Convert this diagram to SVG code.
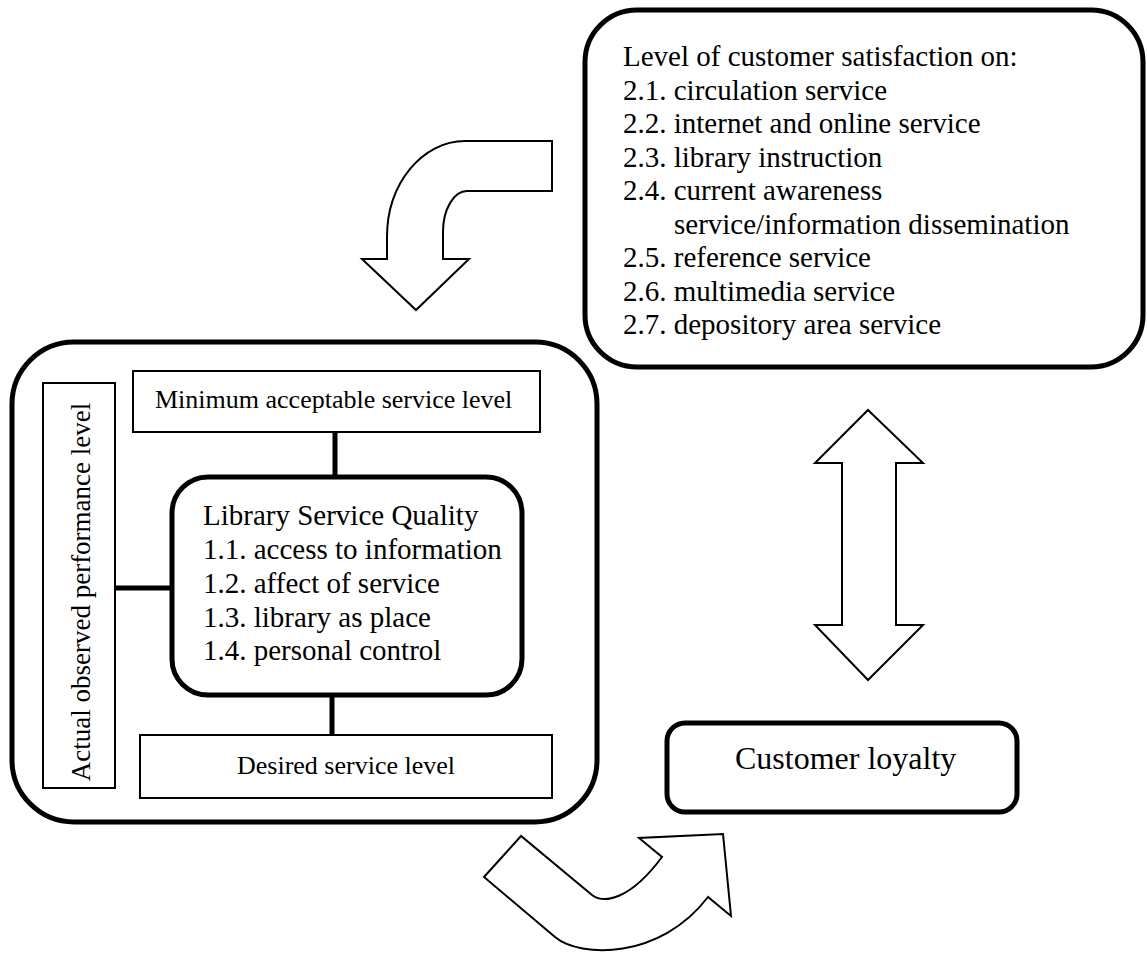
<svg xmlns="http://www.w3.org/2000/svg" width="1147" height="956" viewBox="0 0 1147 956">
<style>
.t{font-family:"Liberation Serif","Times New Roman",serif;fill:#000}
.thick{fill:#fff;stroke:#000;stroke-width:5}
.thin{fill:#fff;stroke:#000;stroke-width:2}
.arrow{fill:#fff;stroke:#000;stroke-width:2;stroke-linejoin:miter}
.conn{stroke:#000;stroke-width:5;fill:none}
</style>
<rect width="1147" height="956" fill="#fff"/>
<g id="arrows">
<path class="arrow" d="M552,141 H465 C422,141 387,184 387,237 V259 H362 L416,310 L469,259 H443 V232 C443,209 454,191 467,191 H552 Z"/>
<path class="arrow" d="M868,410 L923,463 H896 V625 H923 L868,680 L815,625 H842 V463 H815 Z"/>
<path class="arrow" d="M521,836 L484,877 L555,937 C580,958 660,960 708,897 L731,916 L723,834 L639,838 L662,857 C630,900 604,904 592,895 Z"/>
</g>
<g id="satisfaction">
<rect class="thick" x="585" y="10" width="558" height="357" rx="52"/>
<text class="t" font-size="29" x="623" y="66">Level of customer satisfaction on:</text>
<text class="t" font-size="29" x="623" y="99.5">2.1. circulation service</text>
<text class="t" font-size="29" x="623" y="133">2.2. internet and online service</text>
<text class="t" font-size="29" x="623" y="166.5">2.3. library instruction</text>
<text class="t" font-size="29" x="623" y="200">2.4. current awareness</text>
<text class="t" font-size="29" x="674" y="233.5">service/information dissemination</text>
<text class="t" font-size="29" x="623" y="267">2.5. reference service</text>
<text class="t" font-size="29" x="623" y="300.5">2.6. multimedia service</text>
<text class="t" font-size="29" x="623" y="334">2.7. depository area service</text>
</g>
<g id="quality-frame">
<rect class="thick" x="12" y="342" width="585" height="480" rx="62"/>
</g>
<g id="actual">
<rect class="thin" x="43" y="383" width="72" height="405"/>
<text class="t" font-size="27" text-anchor="middle" transform="translate(90,592) rotate(-90)">Actual observed performance level</text>
</g>
<g id="minimum">
<rect class="thin" x="133" y="371" width="407" height="61"/>
<text class="t" font-size="26" x="155" y="408">Minimum acceptable service level</text>
</g>
<g id="desired">
<rect class="thin" x="140" y="735" width="412" height="63"/>
<text class="t" font-size="26" text-anchor="middle" x="346" y="774">Desired service level</text>
</g>
<g id="connectors">
<line class="conn" x1="335" y1="432" x2="335" y2="477"/>
<line class="conn" x1="115" y1="588" x2="172" y2="588"/>
<line class="conn" x1="332" y1="695" x2="332" y2="735"/>
</g>
<g id="lsq">
<rect class="thick" x="172" y="477" width="350" height="218" rx="36"/>
<text class="t" font-size="29" x="203" y="525">Library Service Quality</text>
<text class="t" font-size="29" x="203" y="559">1.1. access to information</text>
<text class="t" font-size="29" x="203" y="593">1.2. affect of service</text>
<text class="t" font-size="29" x="203" y="627">1.3. library as place</text>
<text class="t" font-size="29" x="203" y="660">1.4. personal control</text>
</g>
<g id="loyalty">
<rect class="thick" x="667" y="723" width="350" height="89" rx="18"/>
<text class="t" font-size="32" x="735" y="769">Customer loyalty</text>
</g>
</svg>
